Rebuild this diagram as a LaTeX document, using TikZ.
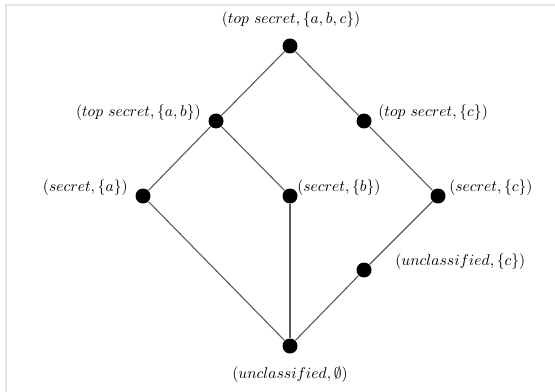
\documentclass[tikz,border=0pt]{standalone}
\usetikzlibrary{calc}
\begin{document}
\begin{tikzpicture}[x=0.64pt,y=-0.64pt,
  dot/.style={circle,fill=black,inner sep=0pt,minimum size=9.6pt},
  edge/.style={draw=black!65,line width=0.7pt},
  lab/.style={inner sep=0pt}]
\useasboundingbox (0,0) rectangle (555,392);
% frame lines
\draw[black!10,line width=1pt] (555,5) -- (6,5) -- (6,392);

% lattice elements
\node[dot] (top)  at (290,46)  {};
\node[dot] (tsab) at (216,121) {};
\node[dot] (tsc)  at (364,121) {};
\node[dot] (sa)   at (143,196) {};
\node[dot] (sb)   at (290,196) {};
\node[dot] (sc)   at (438,196) {};
\node[dot] (uc)   at (364,270) {};
\node[dot] (bot)  at (290,346) {};

% covering relation
\draw[edge] (top) -- (tsab);
\draw[edge] (top) -- (tsc);
\draw[edge] (tsab) -- (sa);
\draw[edge] (tsab) -- (sb);
\draw[edge] (tsc) -- (sc);
\draw[edge] (sc) -- (uc);
\draw[edge] (uc) -- (bot);
\draw[edge] (sa) -- (bot);
\draw[edge] (sb) -- (bot);

% labels
\node[lab] (ltop)  at ($(top)+(1,-26)$) {$(top\ secret, \{a,b,c\})$};
\node[lab,anchor=east] (ltsab) at ($(tsab)+(-15,-8)$) {$(top\ secret, \{a,b\})$};
\node[lab,anchor=west] (ltsc)  at ($(tsc)+(14,-8)$) {$(top\ secret, \{c\})$};
\node[lab,anchor=east] (lsa)   at ($(sa)+(-15,-8)$) {$(secret, \{a\})$};
\node[lab,anchor=west] (lsb)   at ($(sb)+(7,-8)$) {$(secret, \{b\})$};
\node[lab,anchor=west] (lsc)   at ($(sc)+(11,-8)$) {$(secret, \{c\})$};
\node[lab,anchor=west] (luc)   at ($(uc)+(31,-8)$) {$(unclassified, \{c\})$};
\node[lab] (lbot)  at ($(bot)+(0,29)$) {$(unclassified, \emptyset)$};
\end{tikzpicture}
\end{document}
